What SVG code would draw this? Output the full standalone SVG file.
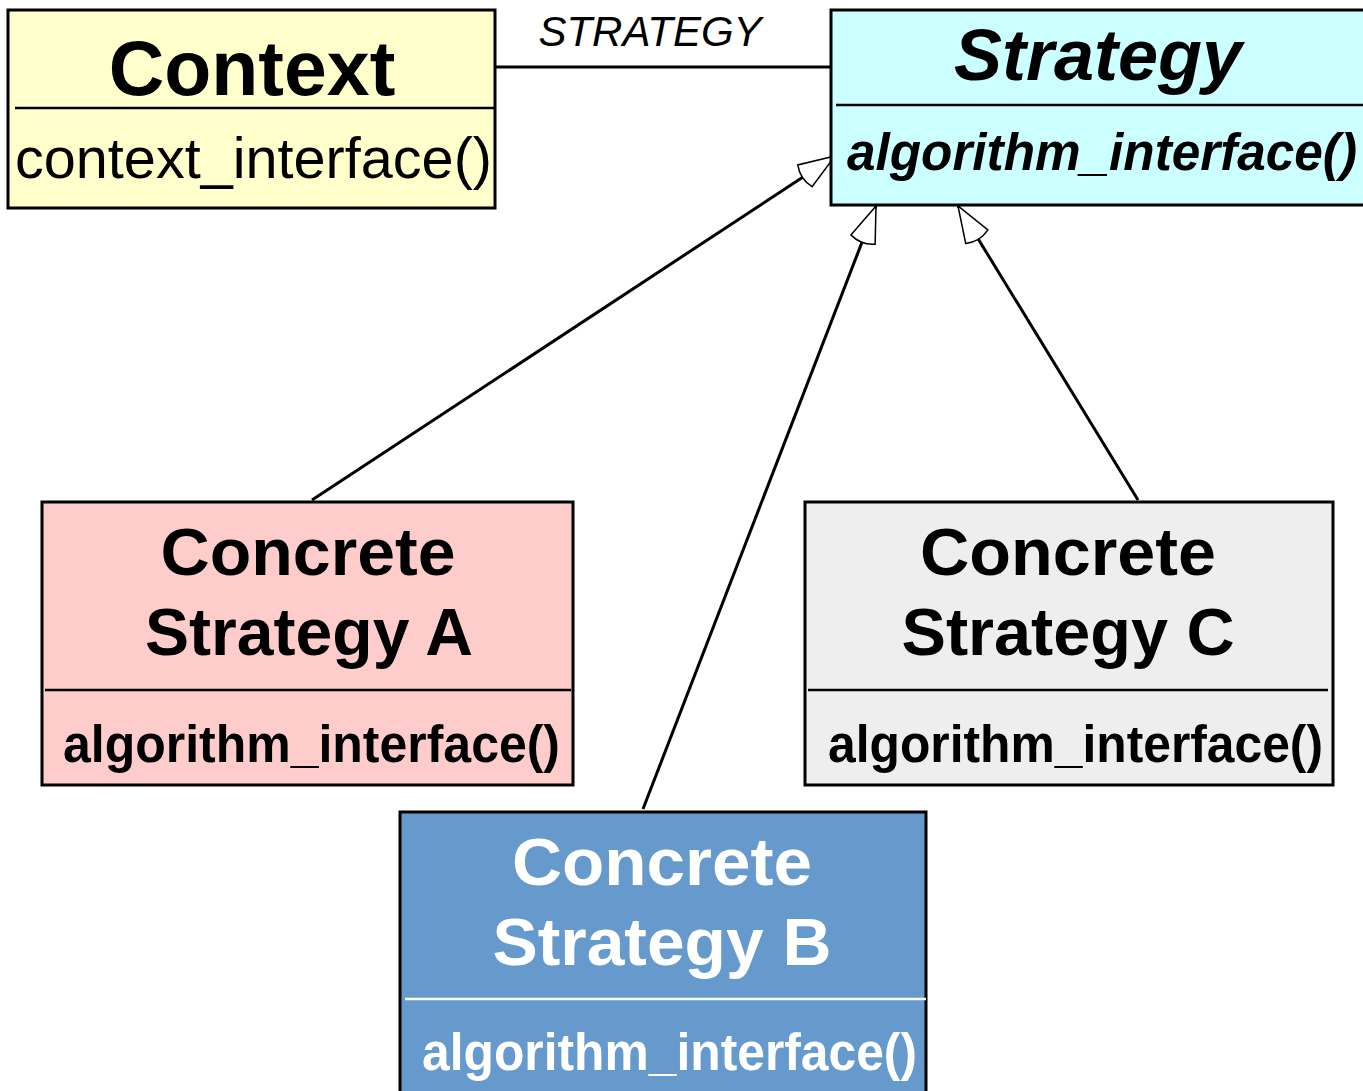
<svg xmlns="http://www.w3.org/2000/svg" width="1363" height="1091" viewBox="0 0 1363 1091">
<defs>
<style>
.box{stroke:#000;stroke-width:3}
.div{stroke:#000;stroke-width:2.5}
.t{font-family:"Liberation Sans",Arial,sans-serif;font-weight:bold;fill:#000}
.conn{stroke:#000;stroke-width:3;fill:none}
</style>
<marker id="gen" markerUnits="userSpaceOnUse" markerWidth="50" markerHeight="40" viewBox="-10 -20 50 40" refX="36" refY="0" orient="auto">
<path d="M36,0 L0,-13 Q-6,0 0,13 Z" fill="#fff" stroke="#000" stroke-width="1.5"/>
</marker>
</defs>
<rect width="1363" height="1091" fill="#fff"/>
<g id="connectors">
<line class="conn" x1="495" y1="67" x2="831" y2="67"/>
<text x="650" y="46" text-anchor="middle" font-family="Liberation Sans,Arial,sans-serif" font-style="italic" font-size="42" fill="#000">STRATEGY</text>
<line class="conn" x1="312" y1="500" x2="835" y2="156" marker-end="url(#gen)"/>
<line class="conn" x1="643" y1="809" x2="876" y2="206" marker-end="url(#gen)"/>
<line class="conn" x1="1138" y1="500" x2="958" y2="206" marker-end="url(#gen)"/>
</g>
<g id="context">
<rect class="box" x="8" y="10" width="487" height="198" fill="#FFFFCC"/>
<line class="div" x1="15" y1="108" x2="495" y2="108"/>
<text class="t" x="252" y="95" text-anchor="middle" font-size="77">Context</text>
<text x="15" y="178" font-family="Liberation Sans,Arial,sans-serif" font-size="57" textLength="477" lengthAdjust="spacingAndGlyphs" fill="#000">context_interface()</text>
</g>
<g id="strategy">
<rect class="box" x="831" y="10" width="534" height="195" fill="#CCFFFF"/>
<line class="div" x1="836" y1="105" x2="1363" y2="105"/>
<text class="t" x="1098" y="80" text-anchor="middle" font-size="72" font-style="italic">Strategy</text>
<text class="t" x="847" y="170" font-size="51" font-style="italic" textLength="510" lengthAdjust="spacingAndGlyphs">algorithm_interface()</text>
</g>
<g id="concreteA">
<rect class="box" x="42" y="502" width="531" height="283" fill="#FFCCCC"/>
<line class="div" x1="45" y1="690" x2="571" y2="690"/>
<text class="t" x="308" y="575" text-anchor="middle" font-size="67" textLength="295" lengthAdjust="spacingAndGlyphs">Concrete</text>
<text class="t" x="309" y="655" text-anchor="middle" font-size="67" textLength="328" lengthAdjust="spacingAndGlyphs">Strategy A</text>
<text class="t" x="63" y="762" font-size="51" textLength="497" lengthAdjust="spacingAndGlyphs">algorithm_interface()</text>
</g>
<g id="concreteC">
<rect class="box" x="805" y="502" width="528" height="283" fill="#EEEEEE"/>
<line class="div" x1="808" y1="690" x2="1328" y2="690"/>
<text class="t" x="1068" y="575" text-anchor="middle" font-size="67" textLength="296" lengthAdjust="spacingAndGlyphs">Concrete</text>
<text class="t" x="1068" y="655" text-anchor="middle" font-size="67" textLength="333" lengthAdjust="spacingAndGlyphs">Strategy C</text>
<text class="t" x="828" y="762" font-size="51" textLength="495" lengthAdjust="spacingAndGlyphs">algorithm_interface()</text>
</g>
<g id="concreteB">
<rect class="box" x="400" y="812" width="526" height="285" fill="#6699CC"/>
<line x1="405" y1="999" x2="926" y2="999" stroke="#fff" stroke-width="2.5"/>
<text class="t" x="662" y="885" text-anchor="middle" font-size="67" fill="#fff" style="fill:#fff" textLength="300" lengthAdjust="spacingAndGlyphs">Concrete</text>
<text class="t" x="662" y="965" text-anchor="middle" font-size="67" style="fill:#fff" textLength="339" lengthAdjust="spacingAndGlyphs">Strategy B</text>
<text class="t" x="422" y="1070" font-size="51" style="fill:#fff" textLength="495" lengthAdjust="spacingAndGlyphs">algorithm_interface()</text>
</g>
</svg>
